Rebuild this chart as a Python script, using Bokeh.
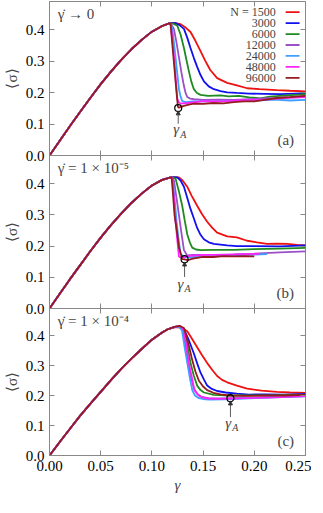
from bokeh.plotting import figure
from bokeh.models import Range1d, LinearAxis, FixedTicker, Label, Arrow, NormalHead, CustomJSTickFormatter
from bokeh.layouts import column
from bokeh.embed import file_html
from bokeh.resources import INLINE

# ---------------- data ----------------
SIZES = ["1500", "3000", "6000", "12000", "24000", "48000", "96000"]
COLORS = ["#ee1111", "#1111ee", "#1f8a1f", "#9b50c8", "#3fa0ff", "#ff22ff", "#951c1c"]

X_TICKS = [0.0, 0.05, 0.10, 0.15, 0.20, 0.25]
Y_TICKS = [0.0, 0.1, 0.2, 0.3, 0.4]

# shared loading branch
LOAD_G = [0, 0.01, 0.02, 0.03, 0.04, 0.05, 0.06, 0.07, 0.08, 0.09, 0.10, 0.11]
LOAD_AB = [0, 0.047, 0.094, 0.139, 0.184, 0.227, 0.267, 0.304, 0.338, 0.368, 0.394, 0.412]
LOAD_C = [0, 0.045, 0.089, 0.133, 0.173, 0.212, 0.251, 0.289, 0.323, 0.355, 0.386, 0.41]

# panel (a): gamma_dot -> 0, post-peak branches [gamma, sigma]
A_1500 = [[0.1176, 0.421], [0.122, 0.422], [0.128, 0.418], [0.133, 0.407], [0.1377, 0.393], [0.1425, 0.365],
          [0.1475, 0.332], [0.152, 0.302], [0.157, 0.272], [0.1637, 0.246], [0.1735, 0.231], [0.183, 0.223],
          [0.193, 0.214], [0.205, 0.211], [0.222, 0.208], [0.235, 0.206], [0.25, 0.204]]
A_3000 = [[0.1176, 0.421], [0.123, 0.421], [0.127, 0.415], [0.1313, 0.403], [0.1345, 0.375], [0.1377, 0.342],
          [0.141, 0.31], [0.1442, 0.282], [0.1475, 0.256], [0.1508, 0.236], [0.1555, 0.22], [0.1605, 0.211],
          [0.167, 0.205], [0.1735, 0.201], [0.183, 0.199], [0.195, 0.197], [0.21, 0.196], [0.225, 0.195],
          [0.24, 0.197], [0.25, 0.198]]
A_6000 = [[0.1176, 0.421], [0.121, 0.419], [0.1248, 0.413], [0.128, 0.385], [0.1313, 0.342], [0.1338, 0.303],
          [0.1362, 0.267], [0.1385, 0.235], [0.141, 0.211], [0.144, 0.199], [0.1475, 0.193], [0.155, 0.19],
          [0.167, 0.191], [0.175, 0.188], [0.185, 0.19], [0.195, 0.185], [0.206, 0.182], [0.215, 0.187],
          [0.225, 0.19], [0.24, 0.193], [0.25, 0.195]]
A_12000 = [[0.1176, 0.421], [0.1195, 0.415], [0.1215, 0.403], [0.124, 0.36], [0.1264, 0.312], [0.1288, 0.265],
           [0.1313, 0.221], [0.1328, 0.2], [0.1345, 0.186], [0.1375, 0.181], [0.141, 0.179], [0.15, 0.177],
           [0.165, 0.178], [0.18, 0.177], [0.2, 0.18], [0.22, 0.183], [0.235, 0.186], [0.25, 0.19]]
A_24000 = [[0.1176, 0.421], [0.1188, 0.414], [0.1199, 0.403], [0.1215, 0.36], [0.1231, 0.312], [0.1248, 0.26],
           [0.1264, 0.211], [0.128, 0.188], [0.1296, 0.173], [0.133, 0.17], [0.14, 0.172], [0.16, 0.172],
           [0.18, 0.173], [0.2, 0.175], [0.22, 0.178], [0.235, 0.175], [0.25, 0.177]]
A_48000 = [[0.1176, 0.421], [0.1183, 0.414], [0.1189, 0.403], [0.1205, 0.35], [0.1221, 0.292], [0.1235, 0.235],
           [0.1248, 0.181], [0.1262, 0.17], [0.128, 0.165], [0.135, 0.167], [0.1508, 0.173], [0.17, 0.172],
           [0.19, 0.176], [0.21, 0.178], [0.23, 0.183], [0.25, 0.186]]
A_96000 = [[0.1176, 0.421], [0.1182, 0.418], [0.1195, 0.37], [0.1208, 0.322], [0.1222, 0.27], [0.1235, 0.221],
           [0.1245, 0.185], [0.1254, 0.155], [0.1265, 0.152], [0.1285, 0.155], [0.1313, 0.158], [0.136, 0.162],
           [0.141, 0.165], [0.15, 0.164], [0.16, 0.167], [0.17, 0.166], [0.18, 0.17], [0.19, 0.172],
           [0.2, 0.172], [0.21, 0.177], [0.222, 0.183], [0.235, 0.186], [0.25, 0.19]]

# panel (b): gamma_dot = 1e-5
B_1500 = [[0.1192, 0.421], [0.1264, 0.42], [0.13, 0.41], [0.1345, 0.39], [0.139, 0.36], [0.1442, 0.329],
          [0.149, 0.302], [0.154, 0.278], [0.159, 0.258], [0.1637, 0.243], [0.1735, 0.231], [0.183, 0.228],
          [0.193, 0.217], [0.2025, 0.212], [0.2125, 0.207], [0.222, 0.208], [0.232, 0.207], [0.242, 0.204],
          [0.25, 0.202]]
B_3000 = [[0.1192, 0.421], [0.1248, 0.42], [0.128, 0.41], [0.1313, 0.39], [0.1345, 0.355], [0.1377, 0.319],
          [0.141, 0.288], [0.1442, 0.258], [0.1475, 0.236], [0.1508, 0.222], [0.1555, 0.212], [0.1605, 0.207],
          [0.1735, 0.202], [0.183, 0.2], [0.2, 0.2], [0.225, 0.199], [0.25, 0.202]]
B_6000 = [[0.1192, 0.421], [0.1231, 0.416], [0.1264, 0.375], [0.1296, 0.329], [0.132, 0.283], [0.1345, 0.238],
          [0.137, 0.212], [0.1394, 0.195], [0.143, 0.189], [0.1475, 0.187], [0.16, 0.188], [0.18, 0.188],
          [0.2, 0.19], [0.225, 0.192], [0.25, 0.194]]
B_12000 = [[0.1192, 0.421], [0.1215, 0.41], [0.124, 0.355], [0.1264, 0.299], [0.1288, 0.243], [0.1313, 0.187],
           [0.1345, 0.17], [0.14, 0.172], [0.16, 0.172], [0.18, 0.173], [0.2, 0.176], [0.225, 0.18], [0.25, 0.183]]
B_24000 = [[0.1192, 0.421], [0.1208, 0.40], [0.1225, 0.34], [0.1241, 0.278], [0.126, 0.225], [0.128, 0.176],
           [0.1313, 0.164], [0.14, 0.165], [0.16, 0.168], [0.18, 0.17], [0.2, 0.173], [0.2125, 0.174]]
B_48000 = [[0.1192, 0.421], [0.1205, 0.40], [0.1231, 0.278], [0.1248, 0.22], [0.1264, 0.166], [0.1296, 0.163],
           [0.135, 0.168], [0.15, 0.172], [0.17, 0.172], [0.19, 0.174], [0.205, 0.175]]
B_96000 = [[0.1192, 0.421], [0.1205, 0.37], [0.1221, 0.299], [0.1243, 0.25], [0.1264, 0.197], [0.1296, 0.158],
           [0.1319, 0.157], [0.135, 0.155], [0.14, 0.16], [0.15, 0.165], [0.16, 0.165], [0.17, 0.168],
           [0.18, 0.167], [0.19, 0.168], [0.2, 0.167]]

# panel (c): gamma_dot = 1e-4
C_1500 = [[0.115, 0.42], [0.1215, 0.427], [0.1248, 0.428], [0.13, 0.424], [0.1345, 0.414], [0.139, 0.39],
          [0.1442, 0.361], [0.149, 0.334], [0.154, 0.308], [0.159, 0.285], [0.1637, 0.265], [0.1685, 0.252],
          [0.1735, 0.244], [0.183, 0.233], [0.193, 0.223], [0.207, 0.216], [0.222, 0.212], [0.235, 0.21],
          [0.25, 0.209]]
C_3000 = [[0.115, 0.42], [0.122, 0.428], [0.127, 0.429], [0.1313, 0.42], [0.136, 0.385], [0.141, 0.34],
          [0.1442, 0.307], [0.1475, 0.276], [0.151, 0.252], [0.154, 0.233], [0.1585, 0.222], [0.1637, 0.215],
          [0.172, 0.21], [0.183, 0.206], [0.195, 0.203], [0.21, 0.204], [0.23, 0.203], [0.25, 0.205]]
C_6000 = [[0.115, 0.42], [0.122, 0.428], [0.127, 0.43], [0.131, 0.42], [0.1345, 0.37], [0.1377, 0.308],
          [0.141, 0.265], [0.1442, 0.233], [0.1475, 0.218], [0.1508, 0.21], [0.1605, 0.202], [0.175, 0.2],
          [0.2, 0.2], [0.225, 0.201], [0.25, 0.203]]
C_12000 = [[0.115, 0.42], [0.122, 0.429], [0.127, 0.431], [0.13, 0.42], [0.1325, 0.37], [0.1345, 0.318],
           [0.138, 0.265], [0.141, 0.223], [0.1443, 0.205], [0.1475, 0.196], [0.155, 0.191], [0.17, 0.19],
           [0.19, 0.192], [0.22, 0.195], [0.25, 0.198]]
C_24000 = [[0.115, 0.42], [0.122, 0.429], [0.127, 0.43], [0.1295, 0.415], [0.132, 0.36], [0.1345, 0.31],
           [0.137, 0.26], [0.1394, 0.218], [0.142, 0.2], [0.1459, 0.191], [0.152, 0.187], [0.157, 0.186],
           [0.17, 0.187], [0.19, 0.19], [0.22, 0.194], [0.25, 0.197]]
C_48000 = [[0.115, 0.42], [0.122, 0.429], [0.1275, 0.432], [0.131, 0.42], [0.1335, 0.37], [0.1361, 0.308],
           [0.139, 0.26], [0.1416, 0.218], [0.145, 0.203], [0.149, 0.194], [0.155, 0.19], [0.165, 0.189],
           [0.1767, 0.19], [0.19, 0.191], [0.22, 0.194], [0.25, 0.198]]
C_96000 = [[0.115, 0.42], [0.122, 0.429], [0.127, 0.432], [0.1313, 0.425], [0.1355, 0.375], [0.1394, 0.318],
           [0.1425, 0.28], [0.1459, 0.249], [0.15, 0.23], [0.154, 0.218], [0.16, 0.209], [0.167, 0.204],
           [0.175, 0.2], [0.19, 0.199], [0.21, 0.2], [0.23, 0.2], [0.25, 0.202]]

# gamma_A markers per panel
GA_A = (0.1257, 0.151)
GA_B = (0.1319, 0.158)
GA_C = (0.1767, 0.191)

PANEL_TITLES = ["γ̇ → 0", "γ̇ = 1 × 10⁻⁵", "γ̇ = 1 × 10⁻⁴"]
PANEL_TAGS = ["(a)", "(b)", "(c)"]

# ---------------- styling ----------------
FONT = "'Liberation Serif', serif"
FRAME = "#888888"
XR = (0.0, 0.25)
YR = (0.0, 0.49)
OVERLAP = 8
LW = 1.8


def style_axis(ax, ticks, show_labels, fmt):
    ax.ticker = FixedTicker(ticks=ticks)
    ax.major_tick_in = 5
    ax.major_tick_out = 0
    ax.minor_tick_line_color = None
    ax.axis_line_color = None
    ax.major_tick_line_color = FRAME
    ax.major_label_text_font = FONT
    ax.major_label_text_color = "black"
    if show_labels:
        ax.major_label_text_font_size = "15px"
        ax.major_label_standoff = 5
        ax.formatter = CustomJSTickFormatter(code="return tick.toFixed(%d);" % fmt)
    else:
        ax.major_label_text_font_size = "0px"
        ax.major_label_standoff = 0
        ax.formatter = CustomJSTickFormatter(code="return '';")


def make_panel(frame_h, top_border, bottom_border, show_x, series, load, ga, title, tag, ga_label,
               legend=False, overlap=0):
    p = figure(frame_width=256, frame_height=frame_h,
               x_range=Range1d(*XR), y_range=Range1d(*YR),
               output_backend="svg", toolbar_location=None,
               min_border_left=44, min_border_right=6,
               min_border_top=top_border, min_border_bottom=bottom_border)
    p.grid.visible = False
    p.outline_line_color = FRAME
    p.outline_line_width = 1
    p.background_fill_color = "white"
    p.border_fill_color = None if overlap else "white"
    if overlap:
        p.margin = (-overlap, 0, 0, 0)

    style_axis(p.xaxis[0], X_TICKS, show_x, 2)
    style_axis(p.yaxis[0], Y_TICKS, True, 1)
    p.yaxis[0].axis_label = "⟨σ⟩"
    p.yaxis[0].axis_label_text_font = FONT
    p.yaxis[0].axis_label_text_font_size = "15px"
    p.yaxis[0].axis_label_text_font_style = "normal"
    p.yaxis[0].axis_label_standoff = 3
    if show_x:
        p.xaxis[0].axis_label = "γ"
        p.xaxis[0].axis_label_text_font = FONT
        p.xaxis[0].axis_label_text_font_size = "15px"
        p.xaxis[0].axis_label_text_font_style = "italic"
        p.xaxis[0].axis_label_standoff = 3

    right = LinearAxis()
    style_axis(right, Y_TICKS, False, 1)
    p.add_layout(right, "right")
    top = LinearAxis()
    style_axis(top, X_TICKS, False, 2)
    p.add_layout(top, "above")

    for pts, col in zip(series, COLORS):
        xs = [g for g in LOAD_G if g < pts[0][0]] + [q[0] for q in pts]
        ys = [s for g, s in zip(LOAD_G, load) if g < pts[0][0]] + [q[1] for q in pts]
        p.line(xs, ys, line_color=col, line_width=LW)

    # gamma_A marker, arrow and label
    p.scatter([ga[0]], [ga[1]], marker="circle", size=7, fill_color=None,
              line_color="black", line_width=1.2)
    p.add_layout(Arrow(end=NormalHead(size=4, fill_color="#333333", line_color="#333333"),
                       x_start=ga[0], y_start=ga_label[2], x_end=ga[0], y_end=ga[1] - 0.009,
                       line_color="#333333", line_width=0.8))
    p.add_layout(Label(x=ga_label[0], y=ga_label[1], text="γ", text_font=FONT,
                       text_font_size="15px", text_font_style="italic",
                       text_align="center", text_baseline="middle"))
    p.add_layout(Label(x=ga_label[0], y=ga_label[1], x_offset=4, y_offset=-5, text="A",
                       text_font=FONT, text_font_size="10px", text_font_style="italic",
                       text_align="left", text_baseline="middle"))

    p.add_layout(Label(x=0.008, y=0.449, text=title, text_font=FONT, text_font_size="15px",
                       text_align="left", text_baseline="middle"))
    p.add_layout(Label(x=0.2388, y=0.05, text=tag, text_font=FONT, text_font_size="15px",
                       text_align="right", text_baseline="middle"))

    if legend:
        for i, (name, col) in enumerate(zip(SIZES, COLORS)):
            ly = 0.456 - 0.0348 * i
            txt = ("N = " + name) if i == 0 else name
            p.add_layout(Label(x=0.2209, y=ly, text=txt, text_font=FONT, text_font_size="12px",
                               text_align="right", text_baseline="middle"))
            p.line([0.2306, 0.2442], [ly, ly], line_color=col, line_width=LW)
    return p


pa = make_panel(154, 1, OVERLAP, False, [A_1500, A_3000, A_6000, A_12000, A_24000, A_48000, A_96000],
                LOAD_AB, GA_A, PANEL_TITLES[0], PANEL_TAGS[0], (0.1238, 0.083, 0.101), legend=True)
pb = make_panel(153, 0, OVERLAP, False, [B_1500, B_3000, B_6000, B_12000, B_24000, B_48000, B_96000],
                LOAD_AB, GA_B, PANEL_TITLES[1], PANEL_TAGS[1], (0.128, 0.08, 0.101), overlap=OVERLAP)
pc = make_panel(147, 0, 0, True, [C_1500, C_3000, C_6000, C_12000, C_24000, C_48000, C_96000],
                LOAD_C, GA_C, PANEL_TITLES[2], PANEL_TAGS[2], (0.1745, 0.11, 0.128), overlap=OVERLAP)

layout = column(pa, pb, pc, spacing=0)
open("out.html", "w").write(file_html(layout, INLINE))
